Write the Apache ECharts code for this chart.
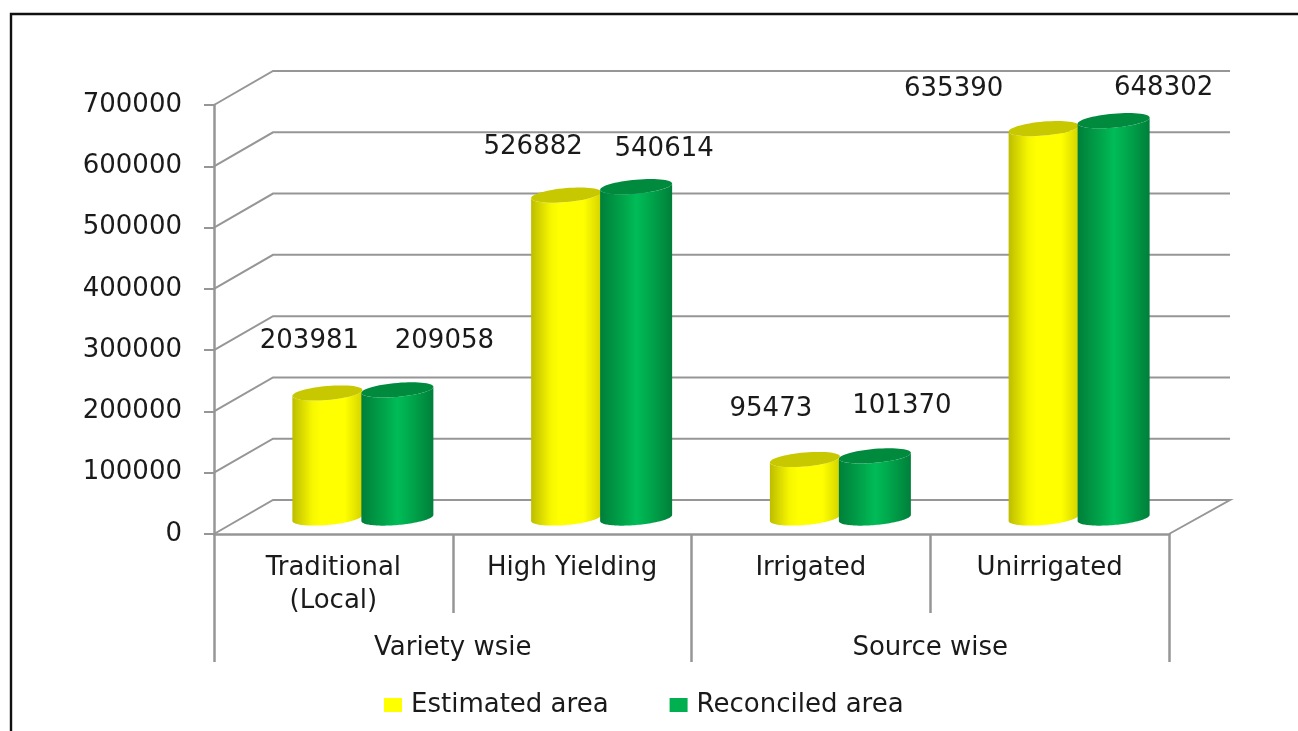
<!DOCTYPE html>
<html>
<head>
<meta charset="utf-8">
<style>html,body{margin:0;padding:0;background:#fff}#c{width:1298px;height:731px}</style>
<script src="https://cdn.jsdelivr.net/npm/echarts@6/dist/echarts.min.js"></script>
</head>
<body>
<div id="c"></div>
<script>
const categories = ['Traditional\n(Local)', 'High Yielding', 'Irrigated', 'Unirrigated'];
const groups = ['Variety wsie', 'Source wise'];
const estimatedArea = [203981, 526882, 95473, 635390];
const reconciledArea = [209058, 540614, 101370, 648302];
const tickValues = [0, 100000, 200000, 300000, 400000, 500000, 600000, 700000];

// layout only
const estLabelShift = [[-18, -52], [-33, -48], [-34, -50], [-90, -39]];
const recLabelShift = [[47, -49], [28, -37], [27, -50], [50, -32]];
const FONT = '"DejaVu Sans"';
const GREY = '#969696';
const DEPTH = [59, -34];
const BASE = [29, -16];

function ellipsePts(cx, cy, a, b, k, from, to) {
  const pts = [], n = 60;
  for (let i = 0; i <= n; i++) {
    const t = from + (to - from) * i / n;
    pts.push([cx + a * Math.cos(t), cy + b * Math.sin(t) - k * a * Math.cos(t)]);
  }
  return pts;
}
function grad(stops) {
  return { type: 'linear', x: 0, y: 0, x2: 1, y2: 0, colorStops: stops.map(s => ({ offset: s[0], color: s[1] })) };
}
function cylinder(cfg) {
  return function (params, api) {
    const i = api.value(0), v = api.value(1);
    const top = api.coord([i, v]), bot = api.coord([i, 0]);
    const cx = top[0] + BASE[0] + cfg.dx, a = cfg.r, b = 7, k = 0.085;
    const yt = top[1] + BASE[1], yb = bot[1] + BASE[1];
    const body = ellipsePts(cx, yt, a, b, k, Math.PI, 0)
      .concat(ellipsePts(cx, yb, a, b, k, 0, Math.PI));
    const shift = cfg.shift[i];
    return {
      type: 'group',
      children: [
        { type: 'polygon', shape: { points: body }, style: { fill: grad(cfg.side) } },
        { type: 'polygon', shape: { points: ellipsePts(cx, yt, a, b, k, 0, Math.PI * 2) }, style: { fill: cfg.cap } },
        { type: 'text', style: { text: String(v), x: cx + shift[0], y: yt + shift[1], align: 'center', verticalAlign: 'middle',
            font: '26px ' + FONT, fill: '#1a1a1a' } }
      ]
    };
  };
}
function wall(params, api) {
  const v = api.value(1), p = api.coord([0, v]), cs = params.coordSys;
  const x0 = cs.x, y = p[1], x1 = cs.x + cs.width;
  const pts = [[x0, y], [x0 + DEPTH[0], y + DEPTH[1]], [x1 + DEPTH[0] + 2, y + DEPTH[1]]];
  if (v === 0) pts.push([x1, y]);
  return { type: 'polyline', shape: { points: pts }, style: { fill: 'none', stroke: GREY, lineWidth: 2 } };
}

const chart = echarts.init(document.getElementById('c'), null, { renderer: 'canvas' });
chart.setOption({
  animation: false,
  backgroundColor: '#fff',
  graphic: [
    { type: 'polyline', silent: true, shape: { points: [[11, 731], [11, 14], [1298, 14]] },
      style: { fill: 'none', stroke: '#111', lineWidth: 2.4 } }
  ],
  grid: { left: 214, top: 105, width: 955, height: 429 },
  legend: {
    data: ['Estimated area', 'Reconciled area'],
    left: 379, top: 687, icon: 'rect', itemWidth: 18, itemHeight: 14, itemGap: 61,
    textStyle: { fontFamily: FONT, fontSize: 26, color: '#1a1a1a', padding: [0, 0, 0, 4] }
  },
  xAxis: [
    { type: 'category', data: categories, position: 'bottom',
      axisLine: { show: true, lineStyle: { color: GREY, width: 2.5 } },
      axisTick: { show: true, length: 79, lineStyle: { color: GREY, width: 2.5 } },
      axisLabel: { margin: 18, fontFamily: FONT, fontSize: 26, lineHeight: 33, color: '#1a1a1a', interval: 0 } },
    { type: 'category', data: groups, position: 'bottom',
      axisLine: { show: false },
      axisTick: { show: true, length: 128, lineStyle: { color: GREY, width: 2.5 } },
      axisLabel: { margin: 101, fontFamily: FONT, fontSize: 26, color: '#1a1a1a', interval: 0 } }
  ],
  yAxis: {
    type: 'value', min: 0, max: 700000, interval: 100000,
    axisLine: { show: true, lineStyle: { color: GREY, width: 2.5 } },
    axisTick: { show: true, length: 10, lineStyle: { color: GREY, width: 2 } },
    axisLabel: { margin: 32, fontFamily: FONT, fontSize: 26, color: '#1a1a1a', padding: [8, 0, 0, 0], formatter: v => String(v) },
    splitLine: { show: false }
  },
  series: [
    { type: 'custom', name: 'walls', silent: true, clip: false, z: 1, renderItem: wall,
      encode: { x: 0, y: 1 }, data: tickValues.map(v => [0, v]) },
    { type: 'custom', name: 'Estimated area', clip: false, z: 3, itemStyle: { color: '#FFFF00' },
      renderItem: cylinder({ dx: -35, r: 35, shift: estLabelShift, cap: '#C8C800',
        side: [[0, '#BDBD00'], [0.28, '#F6F600'], [0.4, '#FFFF00'], [0.75, '#FFFF00'], [1, '#D4D400']] }),
      encode: { x: 0, y: 1 }, data: estimatedArea.map((v, i) => [i, v]) },
    { type: 'custom', name: 'Reconciled area', clip: false, z: 4, itemStyle: { color: '#00B050' },
      renderItem: cylinder({ dx: 35, r: 36, shift: recLabelShift, cap: '#008A3E',
        side: [[0, '#007F3A'], [0.35, '#00A84C'], [0.5, '#00BC58'], [0.65, '#00AC4E'], [1, '#007F3A']] }),
      encode: { x: 0, y: 1 }, data: reconciledArea.map((v, i) => [i, v]) }
  ]
});
</script>
</body>
</html>
